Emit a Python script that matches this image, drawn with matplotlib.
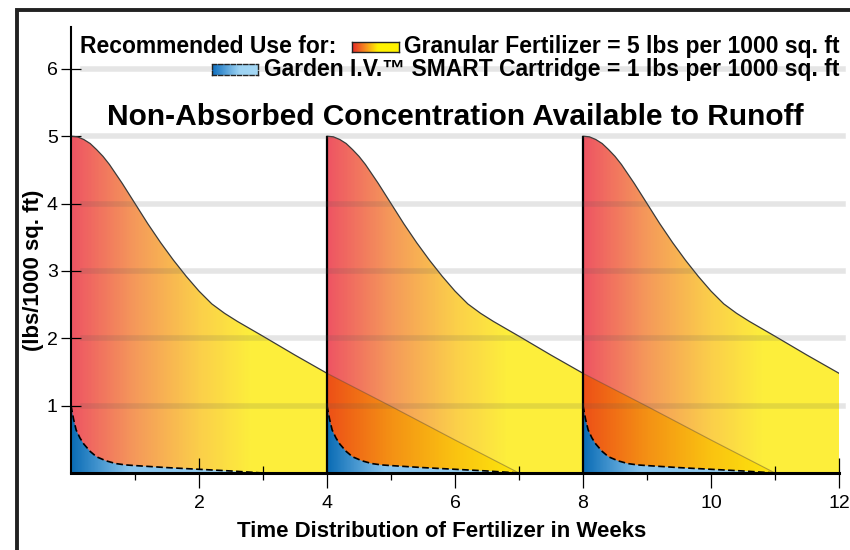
import numpy as np
import matplotlib
matplotlib.use('Agg')
import matplotlib.pyplot as plt
from matplotlib.colors import LinearSegmentedColormap, to_rgb
from matplotlib.patches import Polygon
from matplotlib.lines import Line2D

# granular fertilizer: lbs left vs weeks since application
gran_t = [0, 0.1, 0.2, 0.3, 0.4, 0.5, 0.6, 0.7, 0.8, 0.9, 1.0, 1.2, 1.4, 1.6,
          1.8, 2.0, 2.2, 2.4, 2.6, 2.8, 3.0, 3.5, 4.0, 5.0, 6.0, 7.0]
gran_y = [5.0, 4.99, 4.95, 4.89, 4.80, 4.70, 4.58, 4.44, 4.30, 4.15, 4.00, 3.70,
          3.42, 3.16, 2.92, 2.70, 2.51, 2.37, 2.25, 2.14, 2.03, 1.75, 1.48, 0.99,
          0.49, 0.0]
# SMART cartridge
cart_t = [0, 0.04, 0.08, 0.14, 0.2, 0.3, 0.4, 0.55, 0.7, 0.85, 1.0, 1.5, 2.0, 2.5, 3.0]
cart_y = [1.0, 0.8, 0.64, 0.52, 0.43, 0.32, 0.24, 0.18, 0.14, 0.12, 0.11, 0.08, 0.055, 0.03, 0.0]
# applications every 4 weeks
starts = [0, 4, 8]

yticks = [1, 2, 3, 4, 5, 6]
xticks = [2, 4, 6, 8, 10, 12]
xminor = [1, 3, 5, 7, 9, 11]

gran_cmap = LinearSegmentedColormap.from_list('gran', [
    (0.0, '#ee5563'), (1.0 / 7, '#f59a5a'), (2.0 / 7, '#fbcf4a'),
    (2.8 / 7, '#fdee3c'), (1.0, '#fef13a')])
blue_cmap = LinearSegmentedColormap.from_list('cart', [
    (0.0, '#0a6cb5'), (0.3, '#86c3ec'), (1.0, '#9fd2f3')])

font = 'Liberation Sans'

fig = plt.figure(figsize=(8.5, 5.5), dpi=100)
ax = fig.add_axes([71 / 850, 77 / 550, 768 / 850, 446 / 550])
ax.set_xlim(0, 12)
ax.set_ylim(0, 6.62)

gt = np.array(gran_t)
gy = np.array(gran_y)
ct = np.array(cart_t)
cy = np.array(cart_y)
span = gt[-1]
xs = np.linspace(0, span, 400)
base_rgb = gran_cmap(xs / span)[:, :3]
tail_rgb = np.array(to_rgb('#fef13a'))

for off in starts:
    poly = Polygon(np.column_stack([np.r_[off + gt, off + span, off], np.r_[gy, 0, 0]]),
                   closed=True, facecolor='none', edgecolor='none')
    ax.add_patch(poly)
    im = ax.imshow(base_rgb[None, :, :], extent=[off, off + span, 0, gy.max()],
                   aspect='auto', origin='lower', zorder=1, interpolation='bilinear')
    im.set_clip_path(poly)

# previous application's tail overlaps the next one (multiply look)
tail = gt >= 4
for off in starts[1:]:
    tx = off + gt[tail] - 4
    poly = Polygon(np.column_stack([np.r_[tx, off], np.r_[gy[tail], 0]]),
                   closed=True, facecolor='none', edgecolor='none')
    ax.add_patch(poly)
    n = int(400 * 3 / span)
    im = ax.imshow((base_rgb[:n] * tail_rgb)[None, :, :], extent=[off, off + 3, 0, gy.max()],
                   aspect='auto', origin='lower', zorder=2, interpolation='bilinear')
    im.set_clip_path(poly)

bx = np.linspace(0, 1, 200)
blue_rgb = blue_cmap(bx)[:, :3]
for off in starts:
    poly = Polygon(np.column_stack([np.r_[off + ct, off], np.r_[cy, 0]]),
                   closed=True, facecolor='none', edgecolor='none')
    ax.add_patch(poly)
    im = ax.imshow(blue_rgb[None, :, :], extent=[off, off + ct[-1], 0, 1],
                   aspect='auto', origin='lower', zorder=3, interpolation='bilinear')
    im.set_clip_path(poly)

head = gt <= 4
for off in starts:
    ax.plot(off + gt[head], gy[head], color='#3a3a3a', lw=0.9, zorder=4)
    ax.plot(off + gt[tail], gy[tail], color='#5a4a3a', lw=0.8, alpha=0.45, zorder=4)
    ax.plot(off + ct, cy, color='black', lw=1.2, ls=(0, (4, 2)), zorder=4)
ax.vlines(starts[1:], 0, gy[0], color='black', lw=1.6, zorder=5)

for y in yticks:
    ax.axhline(y, xmin=0.016, xmax=1.005, color='#555555', alpha=0.15, lw=4,
               zorder=6, clip_on=False)

for s in ['top', 'right']:
    ax.spines[s].set_visible(False)
ax.spines['left'].set_linewidth(1.5)
ax.spines['bottom'].set_linewidth(2.2)
ax.spines['left'].set_zorder(7)
ax.spines['bottom'].set_zorder(7)

ax.set_yticks(yticks)
ax.set_xticks(xticks)
ax.set_xticks(xminor, minor=True)
ax.tick_params(axis='y', direction='inout', length=15, width=0.9, pad=2,
               labelsize=14)
ax.tick_params(axis='x', which='major', direction='inout', length=22, width=0.9,
               pad=5, labelsize=14)
ax.tick_params(axis='x', which='minor', direction='inout', length=10, width=0.9)
for lab in ax.get_xticklabels() + ax.get_yticklabels():
    lab.set_family(font)

fig.text(442 / 850, 1 - 537 / 550, 'Time Distribution of Fertilizer in Weeks',
         ha='center', va='baseline', fontsize=16, fontweight='bold', family=font)
fig.text(34 / 850, 1 - 270 / 550, '(lbs/1000 sq. ft)', rotation=90,
         ha='center', va='center', fontsize=16, fontweight='bold', family=font)
fig.text(455 / 850, 1 - 125 / 550, 'Non-Absorbed Concentration Available to Runoff',
         ha='center', va='baseline', fontsize=21.5, fontweight='bold', family=font)
fig.text(80 / 850, 1 - 53 / 550, 'Recommended Use for:',
         ha='left', va='baseline', fontsize=16.5, fontweight='bold', family=font)
fig.text(840 / 850, 1 - 53 / 550, 'Granular Fertilizer = 5 lbs per 1000 sq. ft',
         ha='right', va='baseline', fontsize=16.5, fontweight='bold', family=font)
fig.text(840 / 850, 1 - 76 / 550, 'Garden I.V.\u2122 SMART Cartridge = 1 lbs per 1000 sq. ft',
         ha='right', va='baseline', fontsize=16.5, fontweight='bold', family=[font, 'DejaVu Sans'])

# legend swatches
leg1 = fig.add_axes([352 / 850, 1 - 52 / 550, 47 / 850, 10 / 550])
leg1_cmap = LinearSegmentedColormap.from_list('l1', [
    (0.0, '#e62a2a'), (0.3, '#f7941d'), (0.55, '#fff200'), (1.0, '#fff200')])
leg1.imshow(leg1_cmap(np.linspace(0, 1, 100))[None, :, :3], aspect='auto')
leg2 = fig.add_axes([212 / 850, 1 - 75 / 550, 46 / 850, 11 / 550])
leg2_cmap = LinearSegmentedColormap.from_list('l2', [
    (0.0, '#0f6fbf'), (0.6, '#9dd3f3'), (1.0, '#a5d8f5')])
leg2.imshow(leg2_cmap(np.linspace(0, 1, 100))[None, :, :3], aspect='auto')
for lg in [leg1, leg2]:
    lg.set_xticks([])
    lg.set_yticks([])
    for sp in lg.spines.values():
        sp.set_color('#222222')
        sp.set_linewidth(1.0)
for sp in leg2.spines.values():
    sp.set_linestyle((0, (3, 1.5)))

# page frame
fig.add_artist(Line2D([17 / 850, 17 / 850, 1.0], [0.0, 1 - 10 / 550, 1 - 10 / 550],
                      color='#222222', lw=2.8, solid_joinstyle='miter'))

fig.savefig('out.png', dpi=100)
